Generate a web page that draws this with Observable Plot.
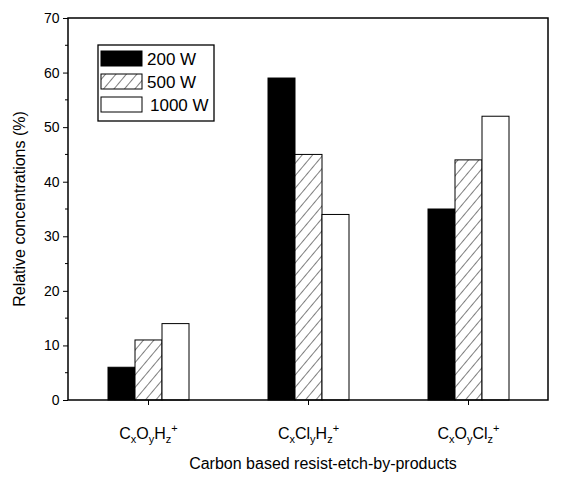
<!DOCTYPE html>
<html><head><meta charset="utf-8">
<script src="https://cdn.jsdelivr.net/npm/d3@7"></script>
<script src="https://cdn.jsdelivr.net/npm/@observablehq/plot@0.6"></script>
<style>body{margin:0;background:#fff;font-family:"Liberation Sans",Arial,sans-serif}</style>
</head><body><div id="chart"></div>
<script>
const groups = ["CxOyHz", "CxClyHz", "CxOyClz"];
const series = ["200 W", "500 W", "1000 W"];
const v200 = [6, 59, 35];
const v500 = [11, 45, 44];
const v1000 = [14, 34, 52];
const yTicks = [0, 10, 20, 30, 40, 50, 60, 70];
const yMinor = [5, 15, 25, 35, 45, 55, 65];
const fills = {"200 W": "#000", "500 W": "url(#hatch)", "1000 W": "#fff"};
const vals = {"200 W": v200, "500 W": v500, "1000 W": v1000};
const data = [];
series.forEach(s => groups.forEach((g, i) => data.push({g, s, v: vals[s][i]})));
const labels = {
  CxOyHz: [["C",""],["x","sub"],["O",""],["y","sub"],["H",""],["z","sub"],["+","sup"]],
  CxClyHz: [["C",""],["x","sub"],["Cl",""],["y","sub"],["H",""],["z","sub"],["+","sup"]],
  CxOyClz: [["C",""],["x","sub"],["O",""],["y","sub"],["Cl",""],["z","sub"],["+","sup"]]
};
const W = 561, H = 479, mL = 68, mR = 13, mT = 18, mB = 79;
const plot = Plot.plot({
  width: W, height: H,
  marginLeft: mL, marginRight: mR, marginTop: mT, marginBottom: mB,
  style: {fontFamily: "Liberation Sans, Arial, sans-serif", fontSize: "14px", color: "#000"},
  fx: {domain: groups, padding: 0, label: null, tickSize: 5, tickPadding: 22},
  x: {domain: series, paddingInner: 0, paddingOuter: 1.4, axis: null},
  y: {domain: [0, 70], ticks: yTicks, label: null, tickSize: 5, tickPadding: 4},
  marks: [
    Plot.barY(data, {fx: "g", x: "s", y: "v", fill: d => fills[d.s], stroke: "#000", strokeWidth: 1})
  ]
});
const svg = d3.select(plot);
const y = plot.scale("y");
const defs = svg.insert("defs", ":first-child");
const p = defs.append("pattern").attr("id", "hatch").attr("patternUnits", "userSpaceOnUse").attr("width", 8).attr("height", 8).attr("patternTransform", "rotate(40)");
p.append("rect").attr("width", 8).attr("height", 8).attr("fill", "#fff");
p.append("line").attr("x1", 0).attr("y1", 0).attr("x2", 0).attr("y2", 8).attr("stroke", "#000").attr("stroke-width", 1);
svg.selectAll("text").each(function() {
  const t = d3.select(this);
  const key = t.text();
  if (!labels[key]) return;
  t.text(null);
  labels[key].forEach(([s, k]) => {
    const ts = t.append("tspan").text(s);
    if (k === "sub") ts.attr("baseline-shift", "-40%").attr("font-size", "11px");
    else if (k === "sup") ts.attr("baseline-shift", "65%").attr("font-size", "11px");
  });
  t.attr("font-size", "16px");
});
svg.append("rect").attr("x", mL).attr("y", mT).attr("width", W - mL - mR).attr("height", H - mT - mB).attr("fill", "none").attr("stroke", "#000").attr("stroke-width", 1.5);
svg.append("g").selectAll("line").data(yMinor).join("line")
  .attr("x1", mL - 3).attr("x2", mL).attr("y1", d => y.apply(d)).attr("y2", d => y.apply(d)).attr("stroke", "#000");
svg.append("text").attr("text-anchor", "middle").attr("font-size", "16px")
  .attr("transform", `translate(25,${(mT + H - mB) / 2}) rotate(-90)`).text("Relative concentrations (%)");
svg.append("text").attr("text-anchor", "middle").attr("font-size", "16px")
  .attr("x", (mL + W - mR) / 2 + 15).attr("y", H - 10).text("Carbon based resist-etch-by-products");
const lg = svg.append("g").attr("font-size", "17px").attr("text-anchor", "start");
lg.append("rect").attr("x", 98).attr("y", 45).attr("width", 116).attr("height", 76).attr("fill", "#fff").attr("stroke", "#000").attr("stroke-width", 1.3);
series.forEach((s, i) => {
  lg.append("rect").attr("x", 101).attr("y", 51 + i * 23).attr("width", 41).attr("height", 15).attr("fill", fills[s]).attr("stroke", "#000");
  lg.append("text").attr("x", s === "1000 W" ? 150 : 147).attr("y", 65 + i * 23).text(s);
});
document.getElementById("chart").appendChild(plot);
</script></body></html>
